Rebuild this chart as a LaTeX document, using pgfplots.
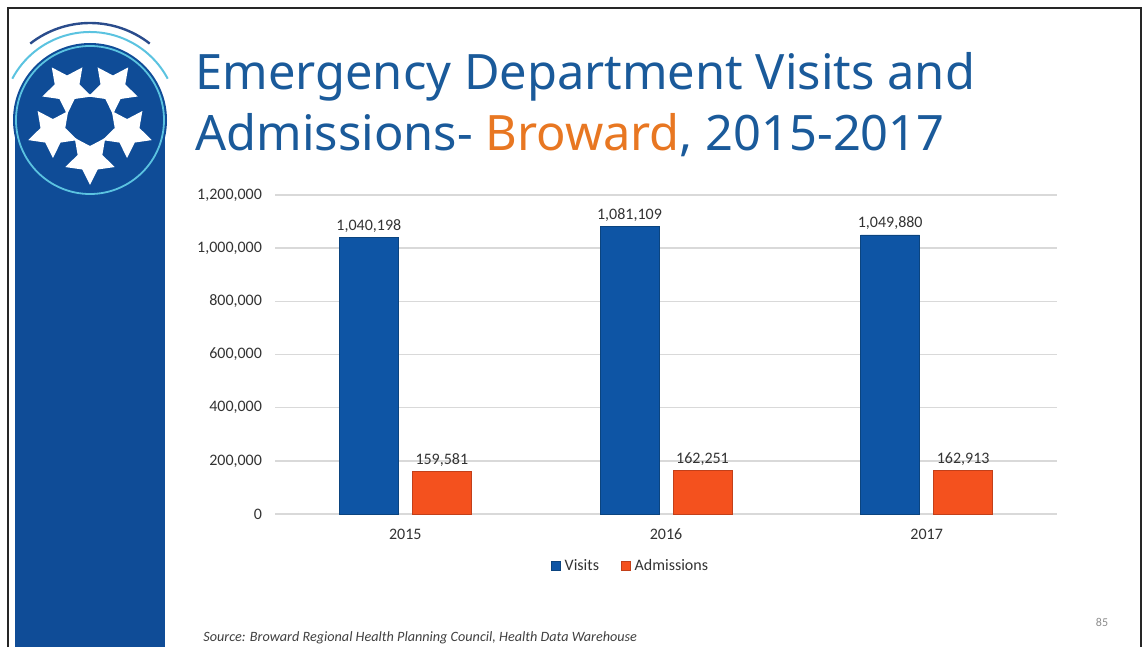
\documentclass[border=0pt]{standalone}
\usepackage{pgfplots}
\pgfplotsset{compat=1.18}
\usepackage{fontspec}
\setmainfont{Carlito}
\newfontfamily\titlefont{Noto Sans}
\usetikzlibrary{shapes.geometric,calc}
\definecolor{slideblue}{HTML}{0F4C97}
\definecolor{titleblue}{HTML}{1A5A9A}
\definecolor{titleorange}{HTML}{E87722}
\definecolor{visits}{HTML}{0E55A5}
\definecolor{visitsdark}{HTML}{0B447F}
\definecolor{adm}{HTML}{F4511E}
\definecolor{admdark}{HTML}{C2401A}
\definecolor{ringcyan}{HTML}{5BC3E0}
\definecolor{darkarc}{HTML}{2A4C8C}

\pgfplotstableread{
x y lab
0 1040198 1,040,198
1 1081109 1,081,109
2 1049880 1,049,880
}\visitsdata
\pgfplotstableread{
x y lab
0 159581 159,581
1 162251 162,251
2 162913 162,913
}\admdata

\begin{document}
\begin{tikzpicture}
\begin{scope}[x=0.5pt,y=-0.5pt]
  \path[use as bounding box] (0,0) rectangle (1143,647);
  % frame
  \draw[black!85, line width=0.8pt] (8,647) -- (8,8) -- (1141,8) -- (1141,647);
  % left bar and logo
  \fill[slideblue] (15,120) rectangle (165,647);
  \fill[slideblue] (90,120) circle[radius=77];
  \draw[ringcyan, line width=0.9pt] (90,120) circle[radius=74];
  \draw[ringcyan, line width=1pt] ($(90,120)+(208:88)$) arc[start angle=208, end angle=332, radius=88];
  \draw[darkarc, line width=1.2pt] ($(90,120)+(232:97)$) arc[start angle=232, end angle=308, radius=97];
  \foreach \a in {270,342,54,126,198} {
    \node[star, star points=5, star point ratio=2.0, fill=white, inner sep=0pt,
          minimum size=26pt, rotate=\a-90] at ({90+39*cos(\a)},{120-39*sin(\a)}) {};
  }
  % title
  \node[anchor=base west, inner sep=0pt, text=titleblue,
        font=\titlefont\fontsize{24.4}{28}\selectfont] at (195,90) {Emergency Department Visits and};
  \node[anchor=base west, inner sep=0pt, text=titleblue,
        font=\titlefont\fontsize{24.4}{28}\selectfont] at (195,150) {Admissions- \textcolor{titleorange}{Broward}, 2015-2017};
  % source and page number
  \node[anchor=base west, inner sep=0pt, text=black!75,
        font=\itshape\fontsize{7.1}{8}\selectfont] at (203,641) {Source: Broward Regional Health Planning Council, Health Data Warehouse};
  \node[inner sep=0pt, text=black!45, font=\fontsize{6}{7}\selectfont] at (1102,622) {85};
\end{scope}

\begin{axis}[
  at={(137.5pt,-257pt)}, anchor=south west,
  scale only axis, width=391pt, height=159.5pt,
  xmin=-0.5, xmax=2.5, ymin=0, ymax=1200000,
  xtick={0,1,2}, xticklabels={2015,2016,2017},
  ytick={0,200000,400000,600000,800000,1000000,1200000},
  yticklabels={0,{200,000},{400,000},{600,000},{800,000},{1,000,000},{1,200,000}},
  scaled y ticks=false,
  axis line style={draw=none},
  major tick length=0pt,
  ymajorgrids, grid style={black!15, line width=0.8pt},
  tick label style={font=\fontsize{8}{9}\selectfont, text=black!80},
  yticklabel style={xshift=-3pt},
  xticklabel style={yshift=-4pt},
  clip=false,
  legend style={at={(0.456,-0.163)}, anchor=center, draw=none, fill=none,
    legend columns=2, font=\fontsize{8}{9}\selectfont, text=black!80,
    /tikz/every even column/.append style={column sep=9pt}},
  legend image code/.code={\draw[#1] (0pt,-2.2pt) rectangle (4.4pt,2.2pt);},
  nodes near coords style={font=\fontsize{8}{9}\selectfont, text=black!80},
]
\addplot[ybar, bar width=29.5pt, bar shift=-18.25pt, fill=visits, draw=visitsdark,
  nodes near coords, point meta=explicit symbolic,
  every node near coord/.append style={xshift=-18.25pt, yshift=-1pt}] table[x=x, y=y, meta=lab]{\visitsdata};
\addlegendentry{Visits}
\addplot[ybar, bar width=29.5pt, bar shift=18.25pt, fill=adm, draw=admdark,
  nodes near coords, point meta=explicit symbolic,
  every node near coord/.append style={xshift=18.25pt, yshift=-1pt}] table[x=x, y=y, meta=lab]{\admdata};
\addlegendentry{Admissions}
\end{axis}
\end{tikzpicture}
\end{document}
